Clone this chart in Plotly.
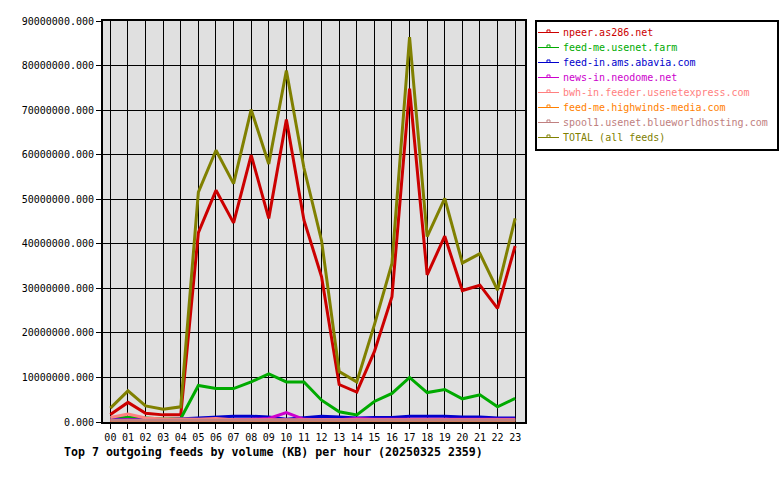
import plotly.graph_objects as go

hours = ["00","01","02","03","04","05","06","07","08","09","10","11",
         "12","13","14","15","16","17","18","19","20","21","22","23"]

names = ["npeer.as286.net", "feed-me.usenet.farm", "feed-in.ams.abavia.com",
         "news-in.neodome.net", "bwh-in.feeder.usenetexpress.com",
         "feed-me.highwinds-media.com", "spool1.usenet.blueworldhosting.com",
         "TOTAL (all feeds)"]

npeer = [1.7e6, 4.4e6, 1.95e6, 1.6e6, 1.6e6, 42.5e6, 52.0e6, 44.7e6, 59.9e6, 45.7e6, 67.9e6, 45.3e6,
         32.6e6, 8.4e6, 6.7e6, 15.8e6, 28.1e6, 74.8e6, 33.0e6, 41.7e6, 29.5e6, 30.7e6, 25.5e6, 39.5e6]
usenet_farm = [0.9e6, 1.0e6, 0.9e6, 0.7e6, 0.8e6, 8.2e6, 7.5e6, 7.5e6, 9.0e6, 10.8e6, 9.0e6, 9.0e6,
               4.9e6, 2.3e6, 1.6e6, 4.6e6, 6.4e6, 10.0e6, 6.6e6, 7.3e6, 5.2e6, 6.1e6, 3.4e6, 5.3e6]
abavia = [0.6e6, 0.5e6, 0.5e6, 0.5e6, 0.7e6, 0.9e6, 1.0e6, 1.3e6, 1.3e6, 1.1e6, 0.6e6, 1.0e6,
          1.3e6, 1.1e6, 0.9e6, 1.0e6, 1.0e6, 1.3e6, 1.3e6, 1.3e6, 1.1e6, 1.1e6, 0.9e6, 0.9e6]
neodome = [0.4e6, 0.5e6, 0.4e6, 0.4e6, 0.4e6, 0.5e6, 0.5e6, 0.5e6, 0.6e6, 0.8e6, 2.1e6, 0.6e6,
           0.5e6, 0.5e6, 0.8e6, 0.6e6, 0.6e6, 0.6e6, 0.5e6, 0.6e6, 0.5e6, 0.6e6, 0.6e6, 0.6e6]
usenetexpress = [1.0e6, 1.8e6, 0.9e6, 0.7e6, 0.7e6, 0.6e6, 0.8e6, 0.5e6, 0.5e6, 0.5e6, 0.5e6, 0.5e6,
                 0.5e6, 0.5e6, 0.5e6, 0.5e6, 0.5e6, 0.5e6, 0.5e6, 0.5e6, 0.5e6, 0.5e6, 0.5e6, 0.5e6]
highwinds = [0.2e6, 0.2e6, 0.2e6, 0.2e6, 0.2e6, 0.2e6, 0.2e6, 0.2e6, 0.2e6, 0.2e6, 0.2e6, 0.2e6,
             0.2e6, 0.2e6, 0.2e6, 0.2e6, 0.2e6, 0.2e6, 0.2e6, 0.2e6, 0.2e6, 0.2e6, 0.2e6, 0.2e6]
blueworld = [0.4e6, 0.4e6, 0.4e6, 0.4e6, 0.4e6, 0.4e6, 0.4e6, 0.4e6, 0.4e6, 0.4e6, 0.4e6, 0.4e6,
             0.4e6, 0.4e6, 0.4e6, 0.4e6, 0.4e6, 0.4e6, 0.4e6, 0.4e6, 0.4e6, 0.4e6, 0.4e6, 0.4e6]
total = [3.1e6, 7.0e6, 3.6e6, 2.85e6, 3.4e6, 51.6e6, 61.0e6, 53.5e6, 70.1e6, 57.9e6, 78.9e6, 57.0e6,
         40.7e6, 11.3e6, 9.0e6, 21.8e6, 35.6e6, 86.4e6, 41.6e6, 50.2e6, 35.7e6, 37.8e6, 29.6e6, 45.7e6]

series = [npeer, usenet_farm, abavia, neodome, usenetexpress, highwinds, blueworld, total]
colors = ["#CC0000", "#00AA00", "#0000CC", "#CC00CC", "#FF8080", "#FF8000", "#C08080", "#808000"]

title = "Top 7 outgoing feeds by volume (KB) per hour (20250325 2359)"

W, H = 780, 480
PL, PR, PT, PB = 103, 525, 21, 422  # plot area in px
FONT = "DejaVu Sans Mono"

def px(x):
    return (x - PL) / (PR - PL)

def py(y):
    return (PB - y) / (PB - PT)

xs = list(range(len(hours)))
fig = go.Figure()
for name, vals, col in zip(names, series, colors):
    fig.add_trace(go.Scatter(x=xs, y=vals, mode="lines", name=name,
                             line=dict(color=col, width=3), showlegend=False))

shapes = []
annotations = []
# legend box
shapes.append(dict(type="rect", xref="paper", yref="paper",
                   x0=px(536), x1=px(778), y0=py(150), y1=py(21),
                   line=dict(color="black", width=2), fillcolor="white", layer="above"))
for i, (name, col) in enumerate(zip(names, colors)):
    yy = 32.5 + 15 * i
    shapes.append(dict(type="line", xref="paper", yref="paper",
                       x0=px(538), x1=px(559), y0=py(yy), y1=py(yy),
                       line=dict(color=col, width=1), layer="above"))
    shapes.append(dict(type="rect", xref="paper", yref="paper",
                       x0=px(547), x1=px(550), y0=py(yy), y1=py(yy - 2.5),
                       line=dict(color=col, width=1), layer="above"))
    annotations.append(dict(text=name, xref="paper", yref="paper",
                            x=px(561), y=py(yy), xanchor="left", yanchor="middle",
                            showarrow=False, font=dict(family=FONT, size=10, color=col)))

annotations.append(dict(text="<b>" + title + "</b>", xref="paper", yref="paper",
                        x=px(62), y=py(452), xanchor="left", yanchor="middle",
                        showarrow=False, font=dict(family=FONT, size=11.6, color="black")))

fig.update_layout(
    width=W, height=H,
    margin=dict(l=PL, r=W - PR, t=PT, b=H - PB, pad=0),
    paper_bgcolor="white", plot_bgcolor="#E0E0E0",
    font=dict(family=FONT, size=10, color="black"),
    shapes=shapes, annotations=annotations,
    showlegend=False,
)
fig.update_xaxes(range=[-0.42, 23.56], tickmode="array", tickvals=xs, ticktext=hours,
                 showgrid=True, gridcolor="black", gridwidth=1,
                 showline=True, linecolor="black", linewidth=2, mirror=True,
                 ticks="outside", ticklen=5, tickcolor="black", tickwidth=1,
                 zeroline=False, tickfont=dict(family=FONT, size=10))
fig.update_yaxes(range=[0, 90e6], dtick=10e6, tick0=0, tickformat=".3f",
                 showgrid=True, gridcolor="black", gridwidth=1,
                 showline=True, linecolor="black", linewidth=2, mirror=True,
                 ticks="outside", ticklen=5, tickcolor="black", tickwidth=1,
                 zeroline=False, tickfont=dict(family=FONT, size=10))

fig.write_html("out.html")
